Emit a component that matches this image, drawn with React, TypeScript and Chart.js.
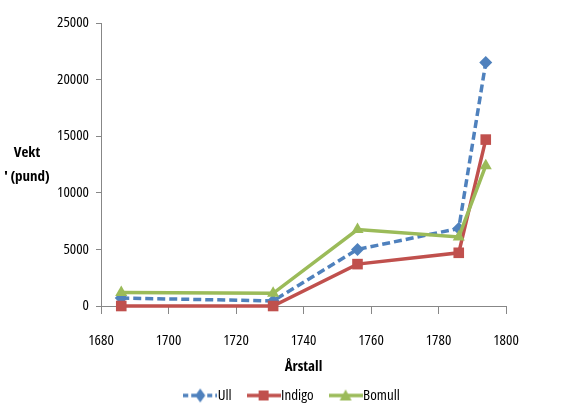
import React, { useEffect, useRef } from 'react';
import { Chart, registerables } from 'chart.js';

Chart.register(...registerables);

const years = [1686, 1731, 1756, 1786, 1794];
const ull = [700, 450, 5000, 6850, 21500];
const indigo = [0, 0, 3700, 4700, 14700];
const bomull = [1200, 1120, 6750, 6100, 12400];

const seriesNames = ['Ull', 'Indigo', 'Bomull'];
const xTickMin = 1680;
const xTickMax = 1800;
const xStep = 20;
const yTickMin = 0;
const yTickMax = 25000;
const yStep = 5000;

const FAMILY = "'Open Sans', 'Liberation Sans', sans-serif";
const BLUE = '#4F81BD';
const RED = '#C0504D';
const GREEN = '#9BBB59';
const AXIS = '#878787';

function makeIcon(color: string, dash: number[], marker: string) {
  const c = document.createElement('canvas');
  c.width = 34;
  c.height = 16;
  const ctx = c.getContext('2d')!;
  ctx.strokeStyle = color;
  ctx.lineWidth = 3.5;
  ctx.setLineDash(dash);
  ctx.beginPath();
  ctx.moveTo(0, 8);
  ctx.lineTo(34, 8);
  ctx.stroke();
  ctx.setLineDash([]);
  ctx.fillStyle = color;
  ctx.beginPath();
  if (marker === 'diamond') {
    ctx.moveTo(17, 1);
    ctx.lineTo(22, 8);
    ctx.lineTo(17, 15);
    ctx.lineTo(12, 8);
  } else if (marker === 'square') {
    ctx.rect(12, 3, 10, 10);
  } else {
    ctx.moveTo(17, 2);
    ctx.lineTo(23, 13);
    ctx.lineTo(11, 13);
  }
  ctx.closePath();
  ctx.fill();
  return c;
}

const yTitlePlugin = {
  id: 'yTitle',
  afterDraw(chart: any) {
    const ctx = chart.ctx;
    ctx.save();
    ctx.font = `bold condensed 15px ${FAMILY}`;
    ctx.fillStyle = '#000';
    ctx.textAlign = 'center';
    ctx.textBaseline = 'middle';
    ctx.fillText('Vekt', 27, 153);
    ctx.fillText("' (pund)", 27, 177);
    ctx.restore();
  },
};

export default function App() {
  const ref = useRef<HTMLCanvasElement>(null);
  useEffect(() => {
    const icons = [
      makeIcon(BLUE, [5, 3], 'diamond'),
      makeIcon(RED, [], 'square'),
      makeIcon(GREEN, [], 'triangle'),
    ];
    const colors = [BLUE, RED, GREEN];
    const tickFont = { family: FAMILY, size: 15, weight: 'condensed' };
    const chart = new Chart(ref.current!, {
      type: 'line',
      data: {
        datasets: [
          {
            label: seriesNames[0],
            data: years.map((x, i) => ({ x, y: ull[i] })),
            borderColor: BLUE,
            backgroundColor: BLUE,
            borderWidth: 3.5,
            borderDash: [8, 4],
            pointStyle: 'rectRot',
            pointRadius: 6.5,
            pointBorderWidth: 0,
            order: 3,
            clip: false,
          },
          {
            label: seriesNames[1],
            data: years.map((x, i) => ({ x, y: indigo[i] })),
            borderColor: RED,
            backgroundColor: RED,
            borderWidth: 3.5,
            pointStyle: 'rect',
            pointRadius: 7.5,
            pointBorderWidth: 0,
            order: 2,
            clip: false,
          },
          {
            label: seriesNames[2],
            data: years.map((x, i) => ({ x, y: bomull[i] })),
            borderColor: GREEN,
            backgroundColor: GREEN,
            borderWidth: 3.5,
            pointStyle: 'triangle',
            pointRadius: 7,
            pointBorderWidth: 0,
            order: 1,
            clip: false,
          },
        ],
      },
      options: {
        responsive: false,
        animation: false,
        layout: { padding: { left: 52, top: 23, right: 40, bottom: -6 } },
        scales: {
          x: {
            type: 'linear',
            min: xTickMin,
            max: xTickMax,
            ticks: {
              stepSize: xStep,
              color: '#000',
              font: tickFont,
              padding: 18,
              callback: (v: any) => String(v),
            },
            grid: { drawOnChartArea: false, tickLength: 8, color: AXIS },
            border: { color: AXIS },
            title: {
              display: true,
              text: 'Årstall',
              color: '#000',
              font: { family: FAMILY, size: 15, weight: 'bold condensed' },
              padding: { top: 0, bottom: -10 },
            },
            afterFit: (s: any) => {
              s.height = 60;
            },
          },
          y: {
            min: yTickMin,
            max: yTickMax,
            ticks: {
              stepSize: yStep,
              color: '#000',
              font: tickFont,
              padding: 7,
              callback: (v: any) => String(v),
            },
            grid: { drawOnChartArea: false, tickLength: 5, color: AXIS },
            border: { color: AXIS },
            afterFit: (s: any) => {
              s.width = 49;
            },
          },
          yRightSpace: {
            type: 'linear',
            position: 'right',
            display: true,
            grid: { display: false, drawTicks: false },
            border: { display: false },
            ticks: { display: false },
            afterFit: (s: any) => {
              s.width = 32;
            },
          },
        },
        plugins: {
          tooltip: { enabled: false },
          legend: {
            position: 'bottom',
            labels: {
              color: '#000',
              font: tickFont,
              usePointStyle: true,
              pointStyleWidth: 20,
              padding: 22,
              generateLabels: () =>
                seriesNames.map((n, i) => ({
                  text: n,
                  pointStyle: icons[i] as any,
                  fillStyle: colors[i],
                  strokeStyle: colors[i],
                  lineWidth: 0,
                  hidden: false,
                  datasetIndex: i,
                  fontColor: '#000',
                })),
            },
          },
        },
      } as any,
      plugins: [yTitlePlugin],
    });
    return () => chart.destroy();
  }, []);
  return (
    <div style={{ position: 'fixed', left: 0, top: 0, width: 578, height: 407, background: '#fff' }}>
      <canvas ref={ref} width={578} height={407} />
    </div>
  );
}
